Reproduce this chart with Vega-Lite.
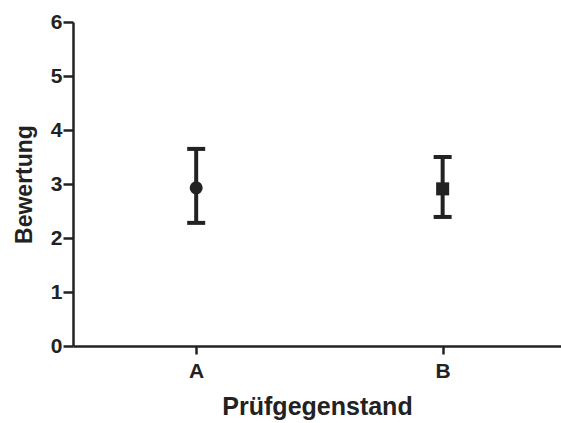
{
  "$schema": "https://vega.github.io/schema/vega-lite/v6.json",
  "width": 488,
  "height": 324,
  "autosize": "none",
  "padding": {"left": 73, "top": 22, "right": 0, "bottom": 77},
  "background": "#ffffff",
  "config": {
    "view": {"stroke": null},
    "font": "Liberation Sans"
  },
  "data": {
    "values": [
      {"cat": "A", "mean": 2.93, "lo": 2.28, "hi": 3.65},
      {"cat": "B", "mean": 2.91, "lo": 2.39, "hi": 3.50}
    ]
  },
  "encoding": {
    "x": {
      "field": "cat",
      "type": "nominal",
      "scale": {"type": "point", "padding": 0.49, "align": 0.51},
      "axis": {
        "title": "Prüfgegenstand",
        "labelAngle": 0,
        "labelFont": "Liberation Sans",
        "labelFontSize": 21,
        "labelFontWeight": "bold",
        "labelColor": "#222222",
        "labelPadding": 6,
        "tickSize": 8,
        "tickWidth": 2.5,
        "tickColor": "#222222",
        "domainColor": "#222222",
        "domainWidth": 2.5,
        "titleFont": "Liberation Sans",
        "titleFontSize": 25,
        "titleFontWeight": "bold",
        "titleColor": "#222222",
        "titlePadding": 13
      }
    }
  },
  "layer": [
    {
      "mark": {"type": "rule", "color": "#222222", "strokeWidth": 4},
      "encoding": {
        "y": {
          "field": "lo",
          "type": "quantitative",
          "scale": {"domain": [0, 6], "nice": false},
          "axis": {
            "title": "Bewertung",
            "values": [0, 1, 2, 3, 4, 5, 6],
            "format": "d",
            "grid": false,
            "labelFont": "Liberation Sans",
            "labelFontSize": 21,
            "labelFontWeight": "bold",
            "labelColor": "#222222",
            "labelPadding": 1,
            "tickSize": 10,
            "tickWidth": 2.5,
            "tickColor": "#222222",
            "domainColor": "#222222",
            "domainWidth": 2.5,
            "titleFont": "Liberation Sans",
            "titleFontSize": 23,
            "titleFontWeight": "bold",
            "titleColor": "#222222",
            "titlePadding": 14
          }
        },
        "y2": {"field": "hi"}
      }
    },
    {
      "mark": {"type": "tick", "color": "#222222", "opacity": 1, "size": 18, "thickness": 4, "orient": "horizontal"},
      "encoding": {"y": {"field": "hi", "type": "quantitative"}}
    },
    {
      "mark": {"type": "tick", "color": "#222222", "opacity": 1, "size": 18, "thickness": 4, "orient": "horizontal"},
      "encoding": {"y": {"field": "lo", "type": "quantitative"}}
    },
    {
      "mark": {"type": "point", "filled": true, "color": "#222222", "opacity": 1, "size": 170},
      "encoding": {
        "y": {"field": "mean", "type": "quantitative"},
        "shape": {
          "field": "cat",
          "type": "nominal",
          "scale": {"domain": ["A", "B"], "range": ["circle", "square"]},
          "legend": null
        }
      }
    }
  ]
}
